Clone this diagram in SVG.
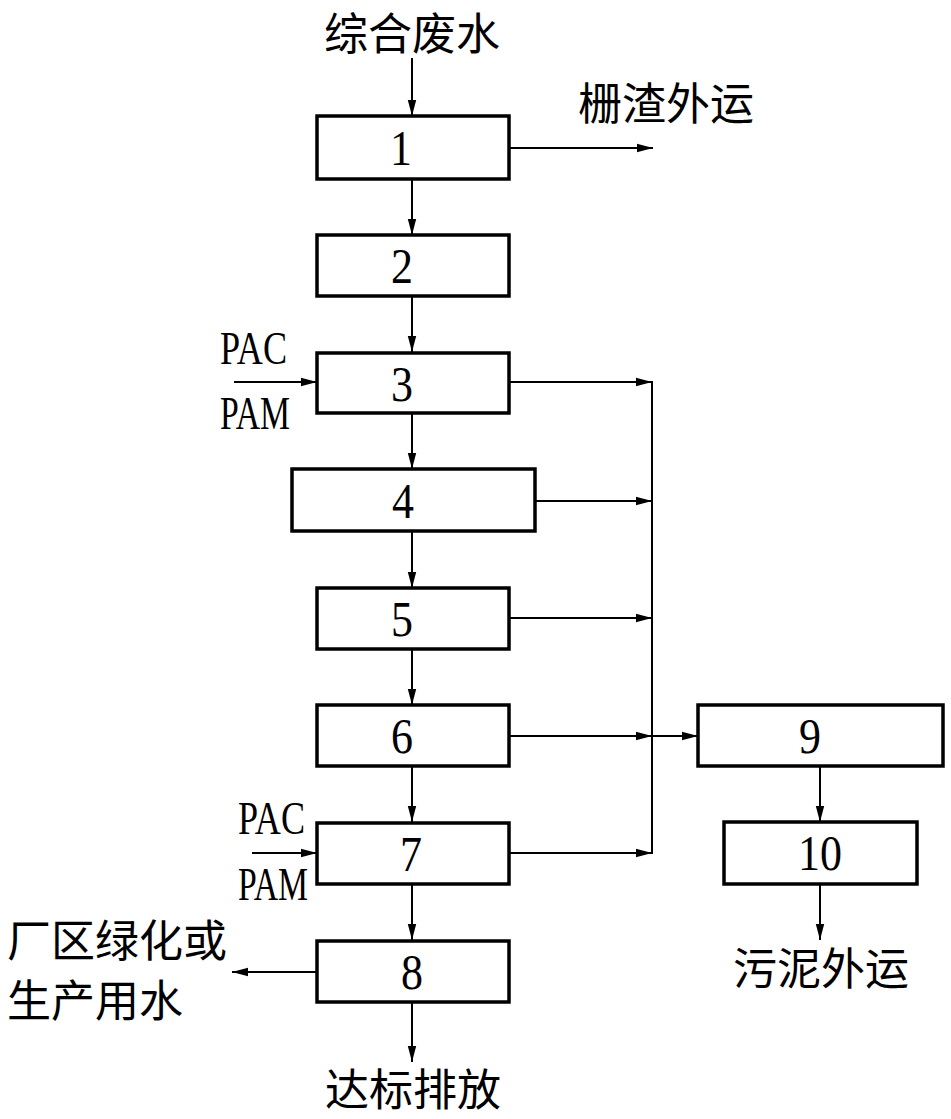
<svg xmlns="http://www.w3.org/2000/svg" width="951" height="1119" viewBox="0 0 951 1119">
<style>
.box{fill:#fff;stroke:#000;stroke-width:3.5}
.ln{fill:none;stroke:#000;stroke-width:2}
.num{font-family:"Liberation Serif","DejaVu Serif",serif;font-size:51px;text-anchor:middle;fill:#000}
.lat{font-family:"Liberation Serif","DejaVu Serif",serif;font-size:47px;fill:#000}
.cjk{font-family:"Noto Sans CJK SC","Noto Sans CJK JP",sans-serif;font-size:44px;fill:#000}
</style>
<defs>
<marker id="ah" markerUnits="userSpaceOnUse" markerWidth="18" markerHeight="10" refX="16" refY="5" orient="auto">
<path d="M0,0.8 L16,5 L0,9.2 Z" fill="#000"/>
</marker>
</defs>
<rect width="951" height="1119" fill="#fff"/>
<g id="connectors">
<line class="ln" x1="412" y1="58" x2="412" y2="116" marker-end="url(#ah)"/>
<line class="ln" x1="509" y1="148" x2="653" y2="148" marker-end="url(#ah)"/>
<line class="ln" x1="412" y1="179" x2="412" y2="235" marker-end="url(#ah)"/>
<line class="ln" x1="412" y1="296" x2="412" y2="352" marker-end="url(#ah)"/>
<line class="ln" x1="412" y1="413" x2="412" y2="469" marker-end="url(#ah)"/>
<line class="ln" x1="412" y1="531" x2="412" y2="588" marker-end="url(#ah)"/>
<line class="ln" x1="412" y1="649" x2="412" y2="705" marker-end="url(#ah)"/>
<line class="ln" x1="412" y1="766" x2="412" y2="822" marker-end="url(#ah)"/>
<line class="ln" x1="412" y1="884" x2="412" y2="940" marker-end="url(#ah)"/>
<line class="ln" x1="412" y1="1001" x2="412" y2="1062" marker-end="url(#ah)"/>
<line class="ln" x1="317" y1="972" x2="232" y2="972" marker-end="url(#ah)"/>
<line class="ln" x1="234" y1="382" x2="317" y2="382" marker-end="url(#ah)"/>
<line class="ln" x1="252" y1="853" x2="317" y2="853" marker-end="url(#ah)"/>
<line class="ln" x1="509" y1="382" x2="652" y2="382" marker-end="url(#ah)"/>
<line class="ln" x1="535" y1="501" x2="652" y2="501" marker-end="url(#ah)"/>
<line class="ln" x1="509" y1="618" x2="652" y2="618" marker-end="url(#ah)"/>
<line class="ln" x1="509" y1="736" x2="652" y2="736" marker-end="url(#ah)"/>
<line class="ln" x1="509" y1="853" x2="652" y2="853" marker-end="url(#ah)"/>
<line class="ln" x1="652" y1="381" x2="652" y2="854"/>
<line class="ln" x1="652" y1="736" x2="698" y2="736" marker-end="url(#ah)"/>
<line class="ln" x1="820" y1="766" x2="820" y2="822" marker-end="url(#ah)"/>
<line class="ln" x1="820" y1="884" x2="820" y2="940" marker-end="url(#ah)"/>
</g>
<g id="node1"><rect class="box" x="317" y="116" width="192" height="63"/><text class="num" x="401" y="165" textLength="22" lengthAdjust="spacingAndGlyphs">1</text></g>
<g id="node2"><rect class="box" x="317" y="235" width="192" height="61"/><text class="num" x="402" y="283" textLength="22" lengthAdjust="spacingAndGlyphs">2</text></g>
<g id="node3"><rect class="box" x="317" y="353" width="192" height="60"/><text class="num" x="402" y="401" textLength="22" lengthAdjust="spacingAndGlyphs">3</text></g>
<g id="node4"><rect class="box" x="292" y="469" width="243" height="62"/><text class="num" x="403" y="518" textLength="22" lengthAdjust="spacingAndGlyphs">4</text></g>
<g id="node5"><rect class="box" x="317" y="588" width="192" height="61"/><text class="num" x="402" y="636" textLength="22" lengthAdjust="spacingAndGlyphs">5</text></g>
<g id="node6"><rect class="box" x="317" y="705" width="192" height="61"/><text class="num" x="402" y="753" textLength="22" lengthAdjust="spacingAndGlyphs">6</text></g>
<g id="node7"><rect class="box" x="317" y="823" width="192" height="61"/><text class="num" x="411" y="871" textLength="22" lengthAdjust="spacingAndGlyphs">7</text></g>
<g id="node8"><rect class="box" x="317" y="941" width="192" height="61"/><text class="num" x="412" y="989" textLength="22" lengthAdjust="spacingAndGlyphs">8</text></g>
<g id="node9"><rect class="box" x="698" y="705" width="245" height="61"/><text class="num" x="810" y="753" textLength="22" lengthAdjust="spacingAndGlyphs">9</text></g>
<g id="node10"><rect class="box" x="724" y="822" width="193" height="62"/><text class="num" x="820" y="870" textLength="44" lengthAdjust="spacingAndGlyphs">10</text></g>
<g id="labels">
<text class="cjk" x="324" y="50" font-size="43">综合废水</text>
<text class="cjk" x="578" y="120">栅渣外运</text>
<text class="lat" x="220" y="364" textLength="67" lengthAdjust="spacingAndGlyphs">PAC</text>
<text class="lat" x="220" y="429" textLength="70" lengthAdjust="spacingAndGlyphs">PAM</text>
<text class="lat" x="238" y="834" textLength="67" lengthAdjust="spacingAndGlyphs">PAC</text>
<text class="lat" x="238" y="900" textLength="70" lengthAdjust="spacingAndGlyphs">PAM</text>
<text class="cjk" x="7" y="957" font-size="45">厂区绿化或</text>
<text class="cjk" x="7" y="1017" font-size="45">生产用水</text>
<text class="cjk" x="325" y="1106" font-size="45">达标排放</text>
<text class="cjk" x="733" y="985" font-size="45">污泥外运</text>
</g>
</svg>
